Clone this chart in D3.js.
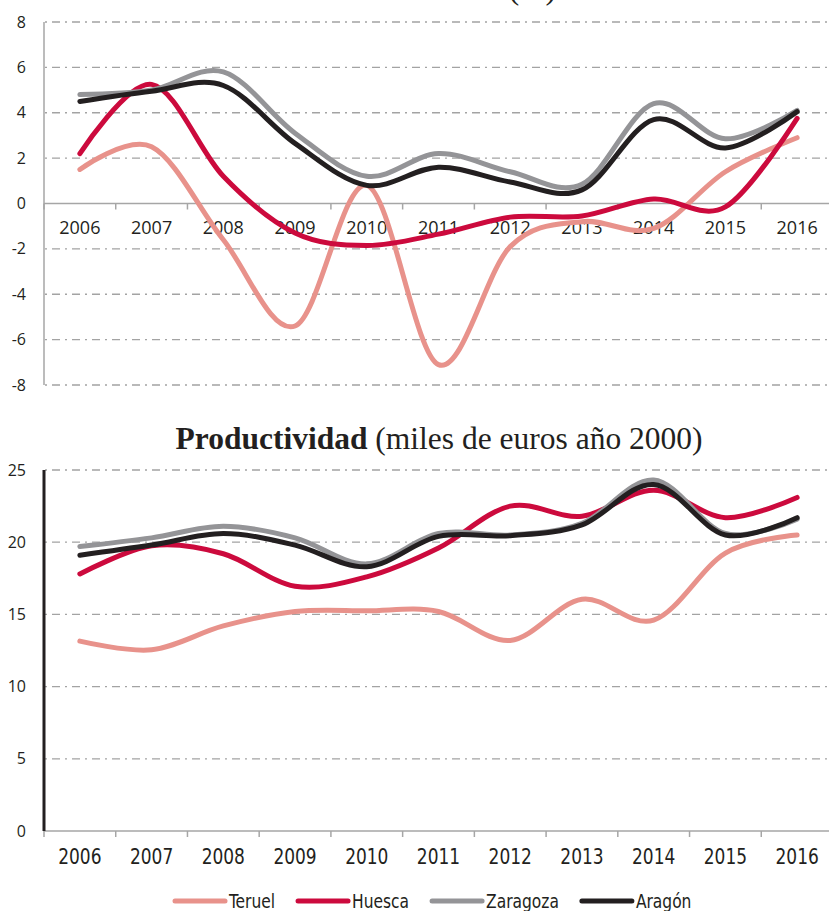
<!DOCTYPE html>
<html>
<head>
<meta charset="utf-8">
<script src="https://cdn.jsdelivr.net/npm/d3@7/dist/d3.min.js"></script>
<style>
  html, body { margin: 0; padding: 0; background: #fff; }
  svg { display: block; }
</style>
</head>
<body>
<svg id="chart" width="829" height="911"></svg>
<script>
// ---------- DATA ----------
const years = ["2006","2007","2008","2009","2010","2011","2012","2013","2014","2015","2016"];
const seriesNames = ["Teruel", "Huesca", "Zaragoza", "Aragón"];
const seriesColors = ["#e8928b", "#cc0a3d", "#949497", "#231f20"];

// Top panel: growth rate (%)
const teruelTop   = [1.5, 2.5, -1.6, -5.4, 0.8, -7.1, -1.9, -0.8, -1.1, 1.4, 2.9];
const huescaTop   = [2.2, 5.25, 1.2, -1.3, -1.85, -1.35, -0.6, -0.55, 0.2, -0.15, 3.75];
const zaragozaTop = [4.8, 5.0, 5.8, 3.1, 1.2, 2.2, 1.4, 0.85, 4.4, 2.85, 4.1];
const aragonTop   = [4.5, 4.95, 5.2, 2.65, 0.8, 1.6, 0.95, 0.6, 3.7, 2.45, 4.05];
const topTicks = [-8, -6, -4, -2, 0, 2, 4, 6, 8];

// Bottom panel: Productividad (miles de euros año 2000)
const teruelBot   = [13.15, 12.55, 14.2, 15.2, 15.25, 15.2, 13.2, 16.05, 14.6, 19.25, 20.5];
const huescaBot   = [17.8, 19.75, 19.2, 16.95, 17.6, 19.6, 22.5, 21.8, 23.6, 21.7, 23.1];
const zaragozaBot = [19.7, 20.3, 21.1, 20.3, 18.5, 20.6, 20.5, 21.3, 24.3, 20.6, 21.6];
const aragonBot   = [19.1, 19.8, 20.6, 19.8, 18.3, 20.4, 20.45, 21.2, 24.0, 20.5, 21.7];
const botTicks = [0, 5, 10, 15, 20, 25];

const topTitleBold = "Crecimiento", topTitleRest = " (%)";
const botTitleBold = "Productividad", botTitleRest = " (miles de euros año 2000)";

// ---------- DRAW ----------
const svg = d3.select("#chart");
const W = 829;
const x = d3.scaleBand().domain(years).range([44, 833]).padding(0);
const gridColor = "#a3a3a3";
const axisColor = "#a6a6a6";
const condensed = "'Liberation Sans Narrow', 'DejaVu Sans Condensed', sans-serif";
const line = (y) => d3.line()
  .x((d, i) => x(years[i]) + x.bandwidth() / 2)
  .y(d => y(d))
  .curve(d3.curveCardinal.tension(0));

function squeeze(sel, k) {
  sel.each(function () {
    const w = this.getComputedTextLength();
    d3.select(this).attr("textLength", w * k).attr("lengthAdjust", "spacingAndGlyphs");
  });
}

function panel(opts) {
  const y = d3.scaleLinear().domain(opts.domain).range(opts.range);
  const g = svg.append("g");
  g.selectAll(".grid").data(opts.ticks.filter(t => t !== 0)).join("line")
    .attr("x1", 44).attr("x2", W)
    .attr("y1", d => y(d)).attr("y2", d => y(d))
    .attr("stroke", gridColor).attr("stroke-width", 1.3)
    .attr("stroke-dasharray", "8,5,2,5").attr("stroke-dashoffset", 12);
  g.append("line").attr("x1", 44).attr("x2", W)
    .attr("y1", y(0)).attr("y2", y(0))
    .attr("stroke", axisColor).attr("stroke-width", 1.5);
  g.selectAll(".xt").data(years).join("line")
    .attr("x1", d => x(d)).attr("x2", d => x(d))
    .attr("y1", y(0)).attr("y2", y(0) + 6)
    .attr("stroke", axisColor).attr("stroke-width", 1.5);
  g.append("line").attr("x1", 44).attr("x2", 44)
    .attr("y1", y(opts.domain[0])).attr("y2", y(opts.domain[1]))
    .attr("stroke", opts.yAxisColor).attr("stroke-width", opts.yAxisWidth);
  g.selectAll(".yl").data(opts.ticks).join("text")
    .attr("x", 26).attr("y", d => y(d)).attr("dy", "0.35em")
    .attr("text-anchor", "end")
    .attr("font-family", "'Open Sans', sans-serif").attr("font-size", 16)
    .attr("fill", "#231f20")
    .text(d => d);
  const xl = g.selectAll(".xl").data(years).join("text")
    .attr("x", d => x(d) + x.bandwidth() / 2)
    .attr("y", opts.labelY).attr("dy", "0.35em")
    .attr("text-anchor", "middle")
    .attr("font-family", opts.labelFont).attr("font-size", opts.labelSize)
    .attr("fill", "#231f20")
    .text(d => d);
  if (opts.labelSqueeze) squeeze(xl, opts.labelSqueeze);
  opts.series.forEach((s, i) => {
    g.append("path").datum(s)
      .attr("d", line(y))
      .attr("fill", "none")
      .attr("stroke", seriesColors[i])
      .attr("stroke-width", 5)
      .attr("stroke-linecap", "round")
      .attr("stroke-linejoin", "round");
  });
  const t = svg.append("text")
    .attr("x", opts.titleX).attr("y", opts.titleY)
    .attr("text-anchor", opts.titleAnchor)
    .attr("font-family", "'Liberation Serif', 'Times New Roman', serif")
    .attr("font-size", 31.5).attr("fill", "#231f20");
  t.append("tspan").attr("font-weight", "bold").text(opts.titleBold);
  t.append("tspan").text(opts.titleRest);
}

panel({
  domain: [-8, 8], range: [385, 22], ticks: topTicks,
  yAxisColor: axisColor, yAxisWidth: 1.5,
  labelY: 228, labelFont: "'Open Sans', sans-serif", labelSize: 18,
  series: [teruelTop, huescaTop, zaragozaTop, aragonTop],
  titleBold: topTitleBold, titleRest: topTitleRest,
  titleX: 556, titleY: -1, titleAnchor: "end"
});

panel({
  domain: [0, 25], range: [831, 470], ticks: botTicks,
  yAxisColor: "#231f20", yAxisWidth: 3,
  labelY: 857, labelFont: condensed, labelSize: 21, labelSqueeze: 0.9,
  series: [teruelBot, huescaBot, zaragozaBot, aragonBot],
  titleBold: botTitleBold, titleRest: botTitleRest,
  titleX: 439, titleY: 449, titleAnchor: "middle"
});

// legend
const lg = svg.append("g");
let lx = 175;
const ly = 901;
seriesNames.forEach((name, i) => {
  lg.append("line").attr("x1", lx).attr("x2", lx + 50)
    .attr("y1", ly).attr("y2", ly)
    .attr("stroke", seriesColors[i]).attr("stroke-width", 5)
    .attr("stroke-linecap", "round");
  const tx = lg.append("text").attr("x", lx + 54).attr("y", ly).attr("dy", "0.35em")
    .attr("font-family", condensed)
    .attr("font-size", 20).attr("fill", "#231f20").text(name);
  const w = tx.node().getComputedTextLength() * 0.86;
  tx.attr("textLength", w).attr("lengthAdjust", "spacingAndGlyphs");
  lx = lx + 54 + w + 23;
});
</script>
</body>
</html>
